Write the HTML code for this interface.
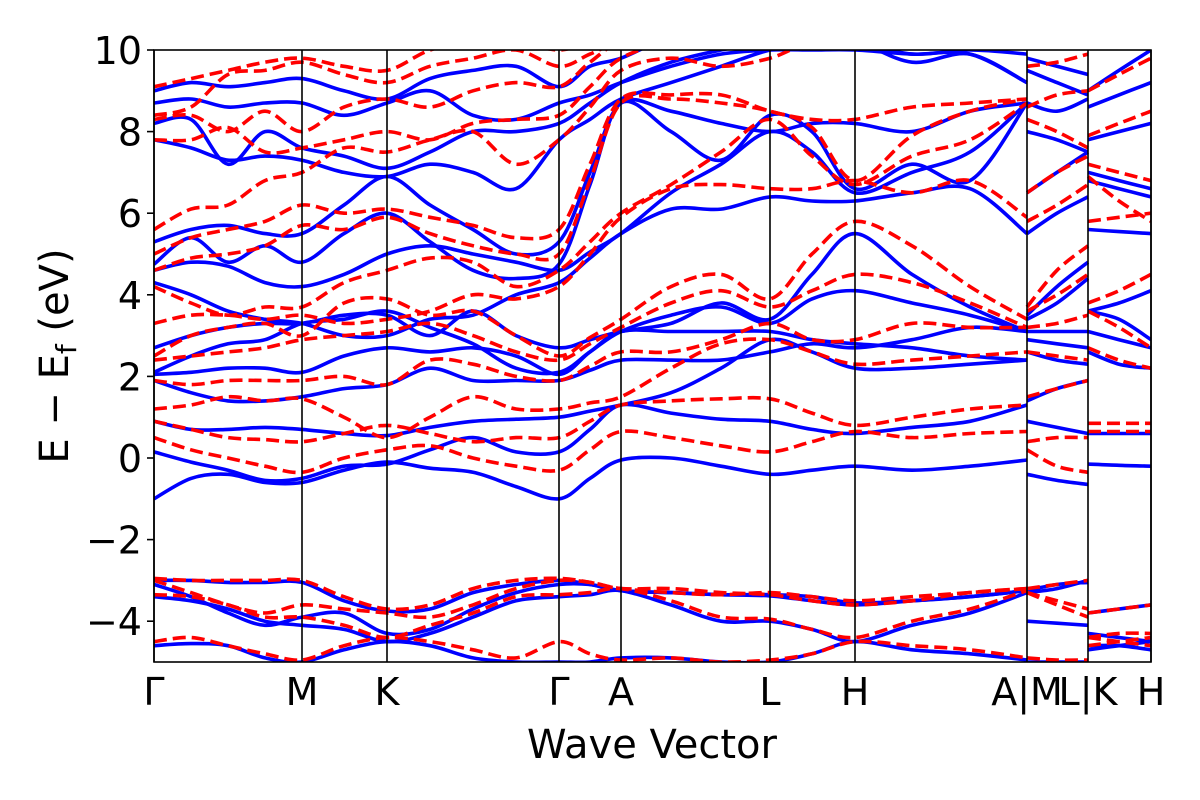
<!DOCTYPE html>
<html><head><meta charset="utf-8"><style>
html,body{margin:0;padding:0;background:#fff;}
svg{display:block;font-family:"DejaVu Sans","Liberation Sans",sans-serif;}
</style></head><body>
<svg id="chart" width="1200" height="800" viewBox="0 0 1200 800">
<defs><clipPath id="plotclip"><rect x="154" y="50" width="997" height="612"/></clipPath></defs>
<g id="bands" clip-path="url(#plotclip)"></g>
<g id="frame"></g>
<text x="652" y="758" font-size="40" text-anchor="middle">Wave Vector</text>
<text transform="translate(68,356) rotate(-90)" font-size="40" text-anchor="middle">E − E<tspan font-size="28" dy="8">f</tspan><tspan dy="-8"> (eV)</tspan></text>
</svg>
<script>
// k-distance of sample points (21 main path + 3 M-L + 3 K-H)
const kGrid = [0,37,74,111,148,190,233,276,319,362,405,436,467,517,567,616,658,701,758,816,873, 873,903,934, 934,965,997];
const symLabels = ["Γ","M","K","Γ","A","L","H","A|M","L|K","H"];
const symPos = [0,148,233,405,467,616,701,873,934,997];
const yTicks = [-4,-2,0,2,4,6,8,10];
const blueBands = [
[-4.6,-4.55,-4.6,-4.9,-5.0,-4.7,-4.5,-4.6,-4.9,-5.0,-5.0,-5.0,-4.9,-4.9,-5.0,-5.0,-4.8,-4.5,-4.7,-4.8,-4.95,-5,-5,-5,-4.7,-4.6,-4.5],
[-3.4,-3.5,-3.7,-4.0,-4.1,-4.2,-4.5,-4.3,-3.9,-3.5,-3.4,-3.35,-3.25,-3.6,-4.0,-4.0,-4.2,-4.5,-4.1,-3.8,-3.3,-4.0,-4.05,-4.1,-4.6,-4.6,-4.7],
[-3.1,-3.4,-3.8,-4.1,-3.9,-3.8,-4.3,-4.2,-3.7,-3.3,-3.1,-3.1,-3.25,-3.3,-3.35,-3.35,-3.4,-3.55,-3.5,-3.4,-3.25,-3.25,-3.1,-3.05,-3.8,-3.7,-3.6],
[-3.0,-3.0,-3.05,-3.05,-3.05,-3.5,-3.75,-3.7,-3.3,-3.1,-3.0,-3.1,-3.25,-3.3,-3.35,-3.38,-3.5,-3.6,-3.5,-3.4,-3.25,-3.3,-3.2,-3.0,-4.3,-4.4,-4.5],
[-1.0,-0.5,-0.4,-0.6,-0.6,-0.3,-0.1,-0.25,-0.35,-0.7,-1.0,-0.5,-0.05,0.0,-0.2,-0.4,-0.3,-0.2,-0.3,-0.2,-0.05,-0.4,-0.55,-0.65,-0.15,-0.18,-0.2],
[0.15,-0.1,-0.3,-0.55,-0.5,-0.2,-0.15,0.2,0.5,0.15,0.15,0.7,1.3,1.1,0.95,0.9,0.7,0.6,0.75,0.9,1.3,0.9,0.75,0.6,0.6,0.6,0.6],
[0.9,0.7,0.7,0.75,0.7,0.6,0.55,0.75,0.9,0.95,1.0,1.15,1.3,1.6,2.2,2.9,2.6,2.2,2.2,2.3,2.4,1.4,1.7,1.9,2.6,2.3,2.2],
[1.9,1.6,1.4,1.4,1.5,1.7,1.8,2.2,1.9,1.9,1.9,2.15,2.4,2.4,2.4,2.6,2.8,2.7,2.9,3.2,3.1,2.6,2.4,2.3,3.1,2.9,2.7],
[2.05,2.1,2.2,2.2,2.1,2.5,2.7,2.6,2.7,2.5,2.05,2.6,3.1,3.1,3.1,3.1,2.9,2.8,2.7,2.5,2.4,2.9,2.8,2.7,3.6,3.4,2.9],
[2.1,2.5,2.8,2.9,3.3,3.4,3.6,3.2,2.8,2.2,2.1,2.6,3.1,3.5,3.7,3.3,3.9,4.1,3.8,3.5,3.1,3.1,3.1,3.1,3.6,3.8,4.1],
[2.7,3.0,3.2,3.3,3.3,3.5,3.5,3.0,3.6,3.0,2.7,2.9,3.1,3.3,3.8,3.4,4.5,5.5,4.5,3.7,3.1,3.4,3.8,4.4,5.6,5.55,5.5],
[4.3,4.0,3.6,3.4,3.3,3.0,3.0,3.4,3.5,4.0,4.3,4.9,5.5,6.1,6.1,6.4,6.3,6.3,6.5,6.6,5.5,3.5,4.2,4.8,6.8,6.6,6.4],
[4.6,4.8,4.7,4.3,4.2,4.5,5.0,5.2,5.0,4.8,4.6,5.05,5.5,6.5,7.2,8.0,7.5,6.5,7.0,7.5,8.7,5.5,6.0,6.4,7.0,6.8,6.6],
[4.75,5.4,4.8,5.2,4.8,5.5,6.0,5.3,4.6,4.4,4.75,6.7,8.7,8.0,7.3,8.4,8.0,6.6,7.2,6.8,8.7,6.5,7.0,7.5,7.8,8.0,8.2],
[5.3,5.6,5.7,5.5,5.5,6.2,6.9,6.2,5.6,5.0,5.3,7.0,8.7,8.5,8.2,8.0,8.2,8.2,8.0,8.5,8.7,8.0,7.8,7.5,8.6,8.9,9.2],
[7.8,7.6,7.3,7.4,7.3,7.0,6.9,7.2,7.0,6.6,7.8,8.3,8.8,9.2,9.6,10.0,10.1,10.2,9.7,9.9,9.2,8.7,8.5,8.8,9.0,9.5,10.0],
[8.2,8.3,7.2,8.0,7.6,7.4,7.1,7.5,8.0,8.0,8.2,8.7,9.2,9.7,10.0,10.2,10.2,10.2,9.9,10.0,9.9,9.5,9.2,8.9,10.2,10.2,10.2],
[8.7,8.8,8.6,8.7,8.7,8.4,8.7,9.0,8.4,8.3,8.7,8.9,9.2,9.6,9.9,10.0,10.0,10.0,9.9,9.9,9.2,9.8,9.6,9.4,10.3,10.3,10.3],
[9.0,9.2,9.1,9.2,9.3,9.0,8.8,9.3,9.5,9.6,9.1,9.6,9.8,10.3,10.3,10.3,10.3,10.3,10.3,10.3,10.3,10.3,10.3,10.3,10.3,10.3,10.3]
];
const redBands = [
[-4.5,-4.4,-4.6,-4.8,-4.95,-4.6,-4.4,-4.5,-4.7,-4.9,-4.5,-4.8,-4.95,-4.9,-5.0,-4.95,-4.8,-4.5,-4.6,-4.7,-4.9,-4.9,-4.95,-4.95,-4.4,-4.5,-4.6],
[-3.35,-3.4,-3.6,-3.9,-3.9,-4.1,-4.4,-4.1,-3.8,-3.4,-3.35,-3.3,-3.2,-3.5,-3.9,-3.95,-4.2,-4.4,-4.0,-3.7,-3.25,-3.3,-3.6,-3.9,-4.4,-4.3,-4.3],
[-3.0,-3.3,-3.6,-3.8,-3.6,-3.7,-3.8,-3.9,-3.6,-3.2,-3.0,-3.05,-3.2,-3.3,-3.35,-3.3,-3.4,-3.5,-3.4,-3.3,-3.2,-3.2,-3.1,-3.0,-3.8,-3.7,-3.6],
[-2.95,-3.0,-3.0,-3.0,-3.0,-3.4,-3.7,-3.6,-3.2,-3.0,-2.95,-3.05,-3.2,-3.2,-3.3,-3.35,-3.5,-3.6,-3.5,-3.3,-3.2,-3.3,-3.5,-3.7,-4.6,-4.5,-4.4],
[0.5,0.2,0.0,-0.2,-0.35,0.0,0.2,0.3,0.0,-0.2,-0.3,0.2,0.65,0.5,0.3,0.15,0.4,0.65,0.5,0.6,0.65,0.2,-0.2,-0.35,0.65,0.65,0.65],
[0.9,0.7,0.5,0.45,0.4,0.6,0.8,0.6,0.4,0.5,0.5,0.9,1.3,1.4,1.45,1.45,1.1,0.8,1.0,1.2,1.3,0.4,0.5,0.5,0.85,0.85,0.85],
[1.2,1.3,1.5,1.4,1.45,1.0,0.5,1.0,1.5,1.2,1.2,1.35,1.5,2.2,2.8,2.9,2.6,2.3,2.4,2.5,2.6,1.5,1.7,1.9,2.7,2.4,2.2],
[1.9,1.8,1.9,1.9,1.9,2.0,1.8,2.4,2.3,2.0,1.9,2.25,2.6,2.6,2.9,3.3,2.9,2.9,3.3,3.2,3.2,2.6,2.5,2.4,3.6,3.2,2.7],
[2.4,2.5,2.6,2.7,2.9,3.0,3.1,3.3,3.0,2.6,2.4,2.8,3.2,3.8,4.1,3.7,4.1,4.5,4.3,3.8,3.2,3.2,3.3,3.5,3.8,4.1,4.5],
[2.5,3.0,3.2,3.3,3.0,3.8,3.9,3.5,3.6,3.0,2.5,2.95,3.4,4.2,4.5,3.9,5.0,5.8,5.2,4.2,3.4,3.6,4.0,4.5,5.8,5.9,6.0],
[3.3,3.5,3.5,3.4,3.5,3.3,3.4,3.6,4.0,3.9,4.2,5.0,5.9,6.6,6.7,6.6,6.6,6.8,6.5,6.8,5.9,3.7,4.6,5.2,6.9,6.3,5.8],
[4.2,3.8,3.5,3.7,3.7,4.3,4.6,4.9,4.8,4.2,4.6,5.3,6.0,6.7,7.5,8.3,7.4,6.7,7.4,7.8,8.7,5.8,6.2,6.7,7.2,7.0,6.8],
[4.6,4.9,5.0,5.2,5.7,5.6,5.9,5.5,5.2,5.0,5.0,6.8,8.7,8.8,8.7,8.5,8.1,6.8,7.9,8.5,8.8,6.5,7.0,7.4,7.9,8.2,8.5],
[5.0,5.4,5.6,5.8,6.2,6.0,6.1,5.9,5.7,5.4,5.6,7.2,8.8,8.9,8.9,8.5,8.3,8.3,8.6,8.7,8.8,8.3,8.0,7.6,9.0,9.4,9.8],
[5.6,6.1,6.2,6.8,7.0,7.6,7.5,7.8,8.0,7.2,7.8,8.6,9.5,9.8,9.6,9.8,10.2,10.2,10.2,10.2,10.2,8.6,8.9,9.0,10.2,10.2,10.2],
[7.8,7.8,8.1,7.5,7.6,7.8,8.0,7.8,8.2,8.3,8.4,9.1,9.8,10.2,10.2,10.2,10.2,10.2,10.2,10.2,10.2,9.6,9.7,9.9,10.3,10.3,10.3],
[8.3,8.4,8.0,8.5,8.0,8.6,8.8,8.6,9.0,9.2,9.1,9.7,10.2,10.3,10.3,10.3,10.3,10.3,10.3,10.3,10.3,10.2,10.2,10.2,10.3,10.3,10.3],
[8.4,8.6,9.4,9.5,9.7,9.4,9.2,9.6,9.8,10.0,9.6,9.9,10.2,10.3,10.3,10.3,10.3,10.3,10.3,10.3,10.3,10.3,10.3,10.3,10.3,10.3,10.3],
[9.1,9.3,9.5,9.7,9.8,9.6,9.5,10.0,10.2,10.2,10.0,10.2,10.3,10.3,10.3,10.3,10.3,10.3,10.3,10.3,10.3,10.3,10.3,10.3,10.3,10.3,10.3]
];
const X0=154,X1=1151,Y0=50,Y1=662,KMAX=997,EMIN=-5,EMAX=10;
function xs(k){return X0+(k/KMAX)*(X1-X0);}
function ys(e){return Y1-(e-EMIN)/(EMAX-EMIN)*(Y1-Y0);}
const NS="http://www.w3.org/2000/svg";
function smooth(pts){
  let d="M"+pts[0][0].toFixed(1)+","+pts[0][1].toFixed(1);
  for(let i=0;i<pts.length-1;i++){
    const p0=pts[i-1]||pts[i],p1=pts[i],p2=pts[i+1],p3=pts[i+2]||p2;
    const c1=[p1[0]+(p2[0]-p0[0])/6,p1[1]+(p2[1]-p0[1])/6];
    const c2=[p2[0]-(p3[0]-p1[0])/6,p2[1]-(p3[1]-p1[1])/6];
    d+="C"+c1[0].toFixed(1)+","+c1[1].toFixed(1)+" "+c2[0].toFixed(1)+","+c2[1].toFixed(1)+" "+p2[0].toFixed(1)+","+p2[1].toFixed(1);
  }
  return d;
}
const segs=[[0,20],[21,23],[24,26]];
const g=document.getElementById("bands");
function drawSet(bands,color,dash,prefix){
  bands.forEach((b,bi)=>{
    segs.forEach((s,si)=>{
      const pts=[];
      for(let i=s[0];i<=s[1];i++)pts.push([xs(kGrid[i]),ys(b[i])]);
      const p=document.createElementNS(NS,"path");
      p.setAttribute("d",smooth(pts));
      p.setAttribute("fill","none");
      p.setAttribute("stroke",color);
      p.setAttribute("stroke-width","3.6");
      if(dash)p.setAttribute("stroke-dasharray",dash);
      
      
      g.appendChild(p);
    });
  });
}
drawSet(blueBands,"#0000ff",null,"blue");
drawSet(redBands,"#ff0000","13,6","red");
const f=document.getElementById("frame");
symPos.forEach((k,i)=>{
  const l=document.createElementNS(NS,"line");
  l.setAttribute("x1",xs(k));l.setAttribute("x2",xs(k));
  l.setAttribute("y1",Y0);l.setAttribute("y2",Y1);
  l.setAttribute("stroke","#000");l.setAttribute("stroke-width","1.6");
  
  
  f.appendChild(l);
  const t=document.createElementNS(NS,"text");
  t.setAttribute("x",xs(k));t.setAttribute("y",705);
  t.setAttribute("font-size","38");t.setAttribute("text-anchor","middle");
  t.textContent=symLabels[i];
  
  
  f.appendChild(t);
});
yTicks.forEach((v,i)=>{
  const tk=document.createElementNS(NS,"line");
  tk.setAttribute("x1",X0-7);tk.setAttribute("x2",X0);
  tk.setAttribute("y1",ys(v));tk.setAttribute("y2",ys(v));
  tk.setAttribute("stroke","#000");tk.setAttribute("stroke-width","1.6");
  
  
  f.appendChild(tk);
  const t=document.createElementNS(NS,"text");
  t.setAttribute("x",X0-12);t.setAttribute("y",ys(v)+14);
  t.setAttribute("font-size","38");t.setAttribute("text-anchor","end");
  t.textContent=(v<0?"−":"")+Math.abs(v);
  
  
  f.appendChild(t);
});
const r=document.createElementNS(NS,"rect");
r.setAttribute("x",X0);r.setAttribute("y",Y0);r.setAttribute("width",X1-X0);r.setAttribute("height",Y1-Y0);
r.setAttribute("fill","none");r.setAttribute("stroke","#000");r.setAttribute("stroke-width","1.6");


f.appendChild(r);
</script>
</body></html>
